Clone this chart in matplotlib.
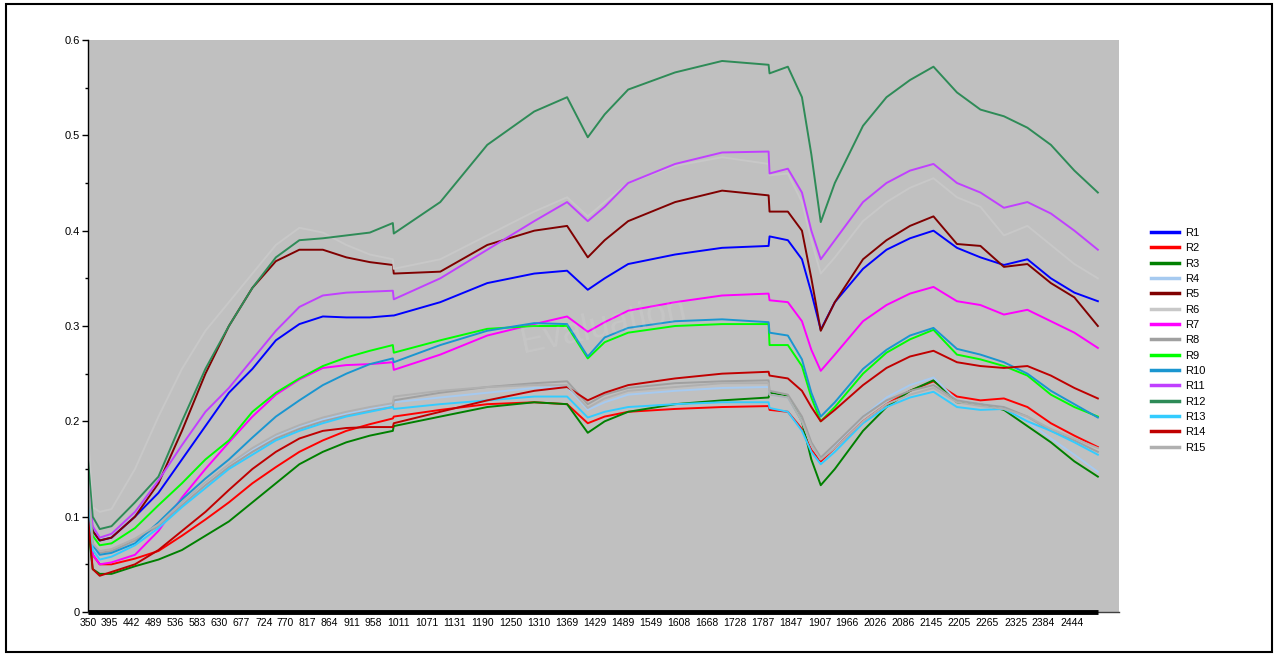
import matplotlib
matplotlib.use("Agg")
import matplotlib.pyplot as plt
from matplotlib.patches import Rectangle

wl = [350, 360, 375, 400, 450, 500, 550, 600, 650, 700, 750, 800, 850, 900, 950, 999,
      1001, 1100, 1200, 1300, 1370, 1414, 1450, 1500, 1600, 1700, 1799,
      1801, 1840, 1870, 1890, 1910, 1940, 2000, 2050, 2100, 2150, 2200, 2250, 2300, 2350, 2400, 2450, 2500]

r1 = [0.13, 0.085, 0.075, 0.078, 0.10, 0.125, 0.16, 0.195, 0.23, 0.255, 0.285, 0.302, 0.31, 0.309, 0.309, 0.311,
      0.311, 0.325, 0.345, 0.355, 0.358, 0.338, 0.35, 0.365, 0.375, 0.382, 0.384,
      0.394, 0.39, 0.37, 0.335, 0.296, 0.325, 0.36, 0.38, 0.392, 0.40, 0.382, 0.372, 0.364, 0.37, 0.35, 0.335, 0.326]
r2 = [0.11, 0.06, 0.05, 0.05, 0.056, 0.064, 0.08, 0.097, 0.115, 0.135, 0.152, 0.168, 0.18, 0.19, 0.197, 0.203,
      0.205, 0.212, 0.218, 0.22, 0.218, 0.198, 0.205, 0.21, 0.213, 0.215, 0.216,
      0.212, 0.21, 0.192, 0.17, 0.158, 0.172, 0.2, 0.218, 0.232, 0.242, 0.226, 0.222, 0.224, 0.215, 0.198, 0.185, 0.173]
r3 = [0.09, 0.045, 0.04, 0.04, 0.048, 0.055, 0.065, 0.08, 0.095, 0.115, 0.135, 0.155, 0.168, 0.178, 0.185, 0.19,
      0.195, 0.205, 0.215, 0.22, 0.218, 0.188, 0.2, 0.21, 0.218, 0.222, 0.225,
      0.23, 0.226, 0.2, 0.16, 0.133, 0.15, 0.19, 0.215, 0.232, 0.243, 0.22, 0.218, 0.212, 0.195, 0.178, 0.158, 0.142]
r4 = [0.12, 0.068, 0.06, 0.062, 0.072, 0.09, 0.112, 0.135, 0.155, 0.17, 0.185, 0.195, 0.202, 0.208, 0.213, 0.218,
      0.22, 0.225, 0.23, 0.235, 0.236, 0.212, 0.22, 0.228, 0.232, 0.235, 0.236,
      0.228, 0.225, 0.2, 0.175, 0.16, 0.175, 0.205, 0.225, 0.238, 0.246, 0.222, 0.218, 0.215, 0.2, 0.182, 0.165, 0.147]
r5 = [0.13, 0.085, 0.075, 0.078, 0.10, 0.135, 0.19, 0.25, 0.30, 0.34, 0.368, 0.38, 0.38, 0.372, 0.367, 0.364,
      0.355, 0.357, 0.385, 0.40, 0.405, 0.372, 0.39, 0.41, 0.43, 0.442, 0.437,
      0.42, 0.42, 0.40, 0.35, 0.295, 0.325, 0.37, 0.39, 0.405, 0.415, 0.386, 0.384, 0.362, 0.365, 0.345, 0.33, 0.30]
r6 = [0.19, 0.11, 0.105, 0.108, 0.15, 0.205, 0.255, 0.295, 0.325, 0.355, 0.385, 0.403, 0.398, 0.385, 0.375, 0.37,
      0.36, 0.37, 0.395, 0.42, 0.435, 0.415, 0.43, 0.45, 0.468, 0.477, 0.47,
      0.458, 0.46, 0.43, 0.39, 0.355, 0.372, 0.41, 0.43, 0.445, 0.455, 0.435, 0.425, 0.395, 0.405, 0.385, 0.365, 0.35]
r7 = [0.12, 0.06, 0.05, 0.052, 0.06, 0.085, 0.12, 0.15, 0.178, 0.205, 0.228, 0.244, 0.256, 0.259, 0.26, 0.262,
      0.254, 0.27, 0.29, 0.302, 0.31, 0.294, 0.304, 0.316, 0.325, 0.332, 0.334,
      0.327, 0.325, 0.305, 0.275, 0.253, 0.27, 0.305, 0.322, 0.334, 0.341, 0.326, 0.322, 0.312, 0.317, 0.305, 0.293, 0.277]
r8 = [0.13, 0.07, 0.062, 0.064, 0.075, 0.09, 0.112, 0.133, 0.152, 0.168, 0.182, 0.192, 0.2, 0.206, 0.211, 0.215,
      0.222, 0.23, 0.236, 0.24, 0.242, 0.218, 0.228, 0.235, 0.24, 0.242, 0.243,
      0.232, 0.228, 0.205, 0.178, 0.162, 0.176, 0.205, 0.222, 0.232, 0.238, 0.222, 0.218, 0.215, 0.205, 0.19, 0.18, 0.168]
r9 = [0.12, 0.08, 0.07, 0.072, 0.088, 0.112, 0.135, 0.16, 0.18, 0.21, 0.23, 0.245, 0.258, 0.267, 0.274, 0.28,
      0.272, 0.285, 0.297, 0.30, 0.30, 0.266, 0.283, 0.293, 0.30, 0.302, 0.302,
      0.28, 0.28, 0.258, 0.225, 0.2, 0.215, 0.25, 0.272, 0.286, 0.296, 0.27, 0.265, 0.258, 0.248, 0.228, 0.215, 0.205]
r10 = [0.12, 0.07, 0.06, 0.062, 0.072, 0.094, 0.118, 0.14, 0.16, 0.183, 0.205, 0.222, 0.238, 0.25, 0.26, 0.266,
       0.262, 0.28, 0.295, 0.303, 0.302, 0.268, 0.288, 0.298, 0.305, 0.307, 0.304,
       0.293, 0.29, 0.265, 0.23, 0.205, 0.22, 0.255, 0.275, 0.29, 0.298, 0.276, 0.27, 0.262, 0.25, 0.232, 0.218, 0.204]
r11 = [0.14, 0.09, 0.078, 0.082, 0.105, 0.138, 0.175, 0.21, 0.235, 0.265, 0.295, 0.32, 0.332, 0.335, 0.336, 0.337,
       0.328, 0.35, 0.38, 0.41, 0.43, 0.41, 0.425, 0.45, 0.47, 0.482, 0.483,
       0.46, 0.465, 0.44, 0.40, 0.37, 0.39, 0.43, 0.45, 0.463, 0.47, 0.45, 0.44, 0.424, 0.43, 0.418, 0.40, 0.38]
r12 = [0.16, 0.10, 0.087, 0.09, 0.115, 0.142, 0.2, 0.255, 0.3, 0.34, 0.372, 0.39, 0.392, 0.395, 0.398, 0.408,
       0.397, 0.43, 0.49, 0.525, 0.54, 0.498, 0.522, 0.548, 0.566, 0.578, 0.574,
       0.565, 0.572, 0.54, 0.48, 0.409, 0.45, 0.51, 0.54, 0.558, 0.572, 0.545, 0.527, 0.52, 0.508, 0.49, 0.463, 0.44]
r13 = [0.12, 0.065, 0.055, 0.058, 0.07, 0.088, 0.11, 0.13, 0.15, 0.165, 0.18, 0.19, 0.198, 0.205, 0.21, 0.215,
       0.213, 0.218, 0.222, 0.226, 0.226, 0.204, 0.21, 0.215, 0.218, 0.22, 0.22,
       0.214, 0.21, 0.19, 0.168, 0.155, 0.168, 0.198, 0.215, 0.225, 0.231, 0.215, 0.212, 0.213, 0.2, 0.19, 0.178, 0.165]
r14 = [0.10, 0.045, 0.038, 0.042, 0.05, 0.065, 0.085, 0.105, 0.128, 0.15, 0.168, 0.182, 0.19, 0.193, 0.194, 0.194,
       0.198, 0.21, 0.222, 0.232, 0.236, 0.222, 0.23, 0.238, 0.245, 0.25, 0.252,
       0.248, 0.245, 0.232, 0.215, 0.2, 0.212, 0.238, 0.256, 0.268, 0.274, 0.262, 0.258, 0.256, 0.258, 0.248, 0.235, 0.224]
r15 = [0.14, 0.072, 0.064, 0.066, 0.077, 0.092, 0.115, 0.136, 0.155, 0.172, 0.186, 0.196, 0.204, 0.21, 0.215, 0.219,
       0.226, 0.232, 0.236, 0.238, 0.238, 0.214, 0.224, 0.232, 0.236, 0.24, 0.24,
       0.228, 0.225, 0.2, 0.175, 0.16, 0.172, 0.2, 0.218, 0.228, 0.235, 0.22, 0.216, 0.213, 0.205, 0.192, 0.182, 0.172]

names = ["R1", "R2", "R3", "R4", "R5", "R6", "R7", "R8", "R9", "R10", "R11", "R12", "R13", "R14", "R15"]
series = [r1, r2, r3, r4, r5, r6, r7, r8, r9, r10, r11, r12, r13, r14, r15]
colors = ["#0000ff", "#ff0000", "#008000", "#a6caf0", "#800000", "#c8c8c8", "#ff00ff", "#a0a0a0",
          "#00ff00", "#1a96d0", "#c040ff", "#2e8b57", "#33ccff", "#c00000", "#b0b0b0"]

xtick_labels = [350, 395, 442, 489, 536, 583, 630, 677, 724, 770, 817, 864, 911, 958, 1011, 1071, 1131,
                1190, 1250, 1310, 1369, 1429, 1489, 1549, 1608, 1668, 1728, 1787, 1847, 1907, 1966, 2026,
                2086, 2145, 2205, 2265, 2325, 2384, 2444]

plt.rcParams['font.family'] = ['Liberation Sans', 'DejaVu Sans']

fig = plt.figure(figsize=(12.81, 6.72), dpi=100)
ax = fig.add_axes([88/1281, 60/672, 1031/1281, 572/672])
ax.set_facecolor("#c0c0c0")

for name, vals, c in zip(names, series, colors):
    ax.plot(wl, vals, color=c, lw=1.4, label=name)

# faint watermark of the charting tool
ax.text(0.5, 0.5, "Evaluation", transform=ax.transAxes, fontsize=26, color='white', alpha=0.09,
        rotation=12, ha='center', va='center')

ax.set_xlim(350, 2545)
ax.set_ylim(0, 0.6)

ax.set_xticks(xtick_labels)
ax.set_xticklabels([str(v) for v in xtick_labels], fontsize=7.5)
ax.tick_params(axis='x', length=0, pad=4)

ax.set_yticks([0, 0.1, 0.2, 0.3, 0.4, 0.5, 0.6])
ax.set_yticklabels(["0", "0.1", "0.2", "0.3", "0.4", "0.5", "0.6"], fontsize=8)
ax.set_yticks([0.05, 0.15, 0.25, 0.35, 0.45, 0.55], minor=True)
ax.tick_params(axis='y', which='major', length=4, width=1, direction='out', pad=2)
ax.tick_params(axis='y', which='minor', length=2.5, width=1, direction='out')

for s in ['top', 'right']:
    ax.spines[s].set_visible(False)
ax.spines['left'].set_linewidth(1)
ax.spines['bottom'].set_linewidth(1)
ax.spines['bottom'].set_color('#404040')
# thick base line under the data range
ax.hlines(0, wl[0], wl[-1], colors='black', lw=3.5, zorder=6, clip_on=False)

leg = fig.legend(loc='upper left', bbox_to_anchor=(1141/1281, 1 - 218/672), frameon=False,
                 fontsize=8, handlelength=2.5, labelspacing=0.48, handletextpad=0.6)
for h in leg.get_lines():
    h.set_linewidth(2.5)

fig.patches.append(Rectangle((6/1281, 20/672), 1266/1281, 648/672, transform=fig.transFigure,
                             fill=False, edgecolor='black', lw=1.5))

fig.savefig("out.png", dpi=100)
